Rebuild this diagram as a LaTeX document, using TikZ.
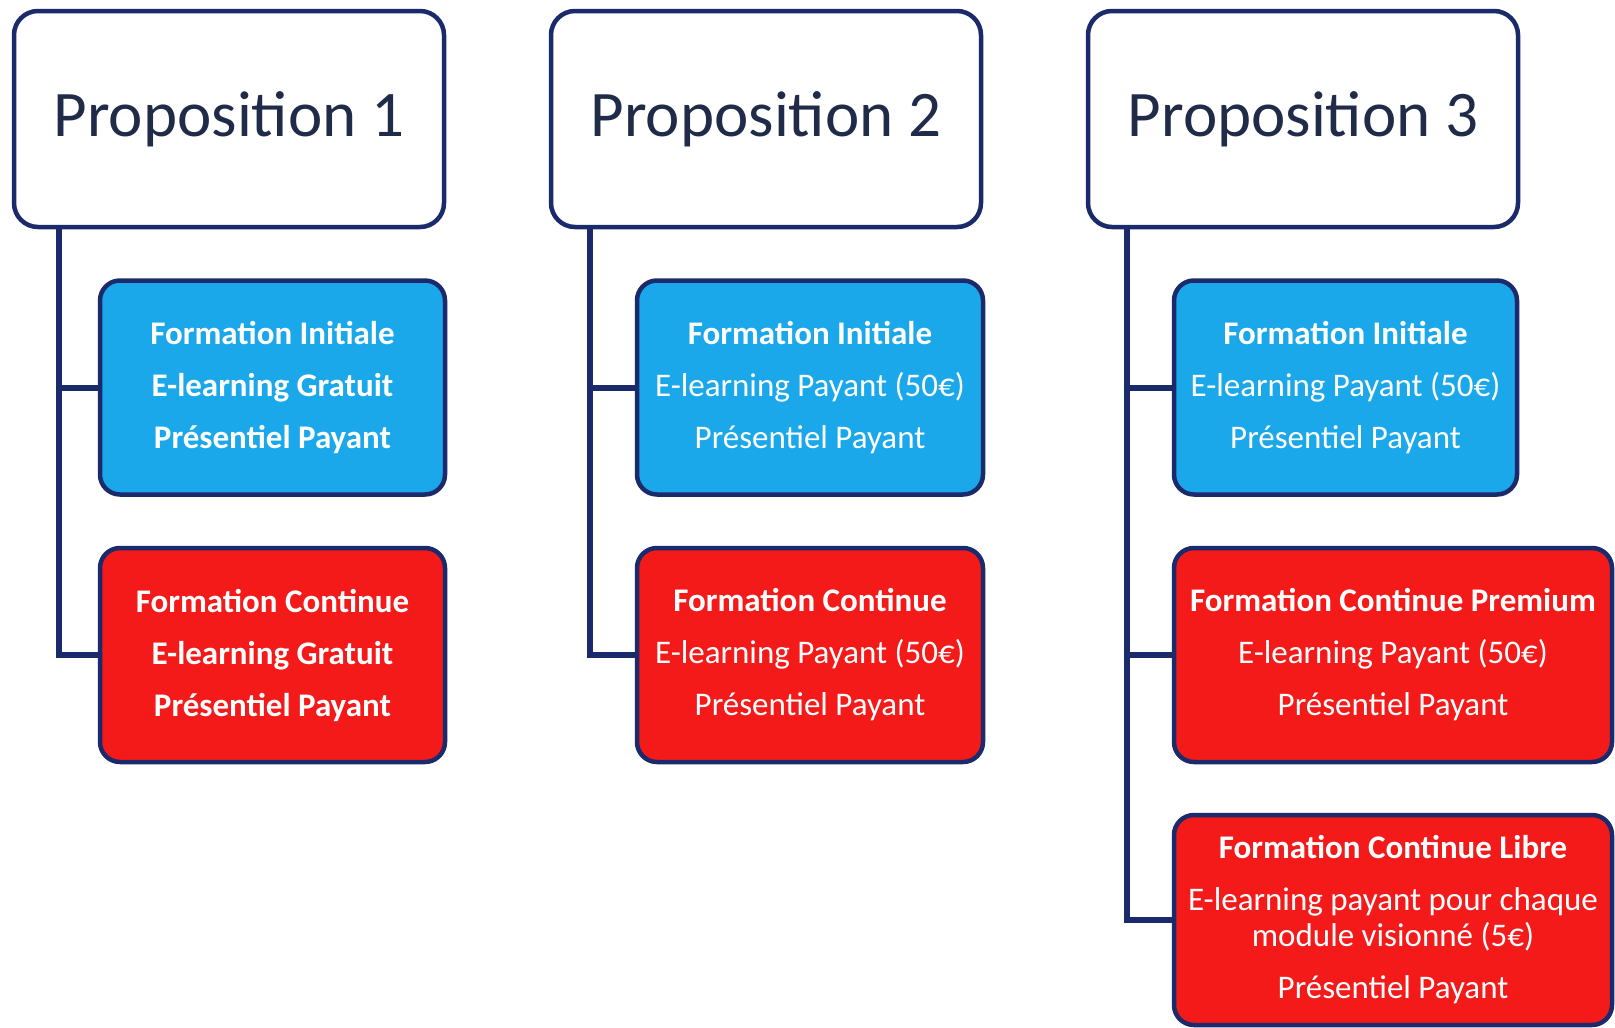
\documentclass[tikz,border=0pt]{standalone}
\usepackage{fontspec}
\setmainfont{Carlito}
\usepackage{tikz}

\definecolor{navy}{HTML}{1B2A6B}
\definecolor{skyfill}{HTML}{1BA8EA}
\definecolor{redfill}{HTML}{F41A1A}
\definecolor{headtext}{HTML}{1F2B48}

\tikzset{
  propbox/.style={draw=navy, line width=4.5pt, rectangle, rounded corners=24pt, fill=white,
    minimum width=430pt, minimum height=216pt, text=headtext, font=\fontsize{65}{70}\selectfont},
  subbox/.style={draw=navy, line width=4.5pt, rectangle, rounded corners=20pt, align=center,
    text=white, minimum height=214pt, font=\fontsize{33}{52}\selectfont},
  initbox/.style={subbox, fill=skyfill},
  contbox/.style={subbox, fill=redfill},
  trunk/.style={navy, line width=6pt}
}

\begin{document}
\begin{tikzpicture}[x=1pt, y=-1pt]
\useasboundingbox (0,0) rectangle (1615,1028);

% propositions
\node[propbox] (p1) at (229,119){Proposition 1};
\node[propbox] (p2) at (766,119){Proposition 2};
\node[propbox] (p3) at (1303,119){Proposition 3};

% proposition 1
\node[initbox, minimum width=345pt] (i1) at (272.5,387.5){\textbf{Formation Initiale}\\ \textbf{E-learning Gratuit}\\ \textbf{Présentiel Payant}};
\node[contbox, minimum width=345pt] (c1) at (272.5,655){\textbf{Formation Continue}\\ \textbf{E-learning Gratuit}\\ \textbf{Présentiel Payant}};

% proposition 2
\node[initbox, minimum width=346pt] (i2) at (810,387.5){\textbf{Formation Initiale}\\ E-learning Payant (50€)\\ Présentiel Payant};
\node[contbox, minimum width=346pt] (c2) at (810,655){\textbf{Formation Continue}\\ E-learning Payant (50€)\\ Présentiel Payant};

% proposition 3
\node[initbox, minimum width=343pt] (i3) at (1345.5,387.5){\textbf{Formation Initiale}\\ E-learning Payant (50€)\\ Présentiel Payant};
\node[contbox, minimum width=438pt] (c3) at (1393,655){\textbf{Formation Continue Premium}\\ E-learning Payant (50€)\\ Présentiel Payant};
\node[contbox, minimum width=438pt, minimum height=210pt] (l3) at (1393,920){\textbf{Formation Continue Libre}\\ E-learning payant pour chaque\\[-16pt] module visionné (5€)\\ Présentiel Payant};

% trunks
\coordinate (t1) at ([xshift=47pt]p1.south west);
\coordinate (t2) at ([xshift=41pt]p2.south west);
\coordinate (t3) at ([xshift=41pt]p3.south west);
\draw[trunk] (t1) |- (i1.west);
\draw[trunk] (t1) |- (c1.west);
\draw[trunk] (t2) |- (i2.west);
\draw[trunk] (t2) |- (c2.west);
\draw[trunk] (t3) |- (i3.west);
\draw[trunk] (t3) |- (c3.west);
\draw[trunk] (t3) |- (l3.west);
\end{tikzpicture}
\end{document}
